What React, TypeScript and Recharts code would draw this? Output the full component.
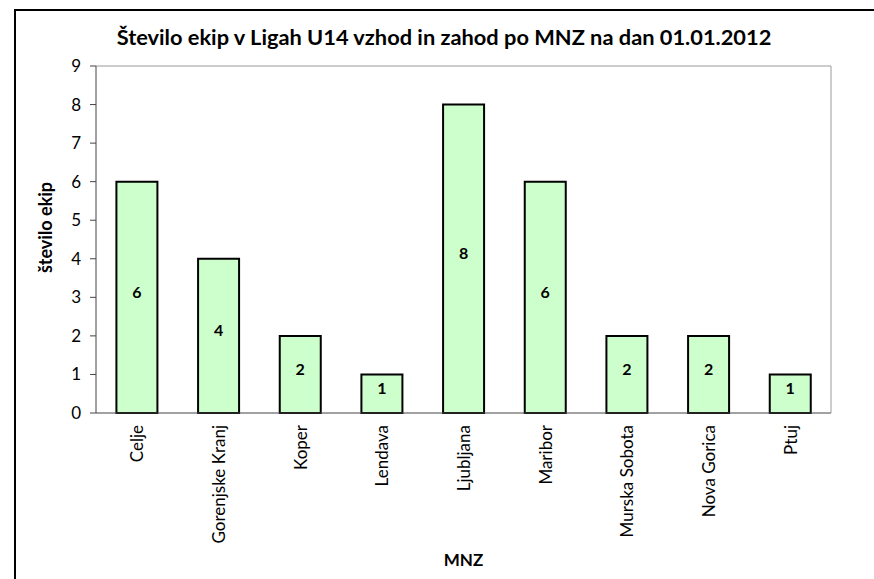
import React from "react";
import { BarChart, Bar, XAxis, YAxis, LabelList } from "recharts";

const categories = [
  "Celje",
  "Gorenjske Kranj",
  "Koper",
  "Lendava",
  "Ljubljana",
  "Maribor",
  "Murska Sobota",
  "Nova Gorica",
  "Ptuj",
];
const teamCounts = [6, 4, 2, 1, 8, 6, 2, 2, 1];
const yTicks = [0, 1, 2, 3, 4, 5, 6, 7, 8, 9];
const boundaryTicks = [0, 1, 2, 3, 4, 5, 6, 7, 8, 9];

const FONT = "Lato, 'Open Sans', sans-serif";

const data = categories.map((name, i) => ({ name, ekipe: teamCounts[i] }));

const CategoryTick = (props: any) => {
  const { x, y, payload } = props;
  return (
    <text
      x={x}
      y={y}
      transform={`rotate(-90, ${x}, ${y})`}
      textAnchor="end"
      dominantBaseline="central"
      fontFamily={FONT}
      fontSize={17}
      fill="#000"
    >
      {payload.value}
    </text>
  );
};

const BarValue = (props: any) => {
  const { x, y, width, height, value } = props;
  return (
    <text
      x={x + width / 2}
      y={y + height / 2 - 6}
      textAnchor="middle"
      dominantBaseline="central"
      fontFamily={FONT}
      fontSize={16}
      fontWeight="bold"
      fill="#000"
    >
      {value}
    </text>
  );
};

export default function App() {
  return (
    <div
      style={{
        position: "absolute",
        left: 0,
        top: 0,
        width: 874,
        height: 579,
        overflow: "hidden",
        background: "#fff",
      }}
    >
      <div
        style={{
          position: "absolute",
          left: 14,
          top: 9,
          width: 1000,
          height: 700,
          border: "2px solid #000",
        }}
      />
      <div
        style={{
          position: "absolute",
          left: 0,
          top: 24,
          width: 888,
          height: 26,
          lineHeight: "26px",
          textAlign: "center",
          fontFamily: FONT,
          fontWeight: "bold",
          fontSize: 21.8,
          color: "#000",
          whiteSpace: "nowrap",
        }}
      >
        Število ekip v Ligah U14 vzhod in zahod po MNZ na dan 01.01.2012
      </div>
      <div style={{ position: "absolute", left: 0, top: 0 }}>
        <BarChart
          width={874}
          height={579}
          data={data}
          margin={{ top: 65, right: 42, bottom: 0, left: 0 }}
          barCategoryGap="25%"
        >
          <XAxis
            xAxisId="a_grid"
            type="number"
            domain={[0, categories.length]}
            ticks={boundaryTicks}
            allowDataOverflow
            height={1}
            tick={false}
            tickSize={5}
            axisLine={{ stroke: "#444", strokeWidth: 1 }}
            tickLine={{ stroke: "#444" }}
          />
          <XAxis
            xAxisId="b_cat"
            dataKey="name"
            type="category"
            height={165}
            interval={0}
            axisLine={false}
            tickLine={false}
            tickSize={6}
            tickMargin={5}
            tick={<CategoryTick />}
            label={{
              content: (p: any) => {
                const vb = p.viewBox;
                return (
                  <text
                    x={vb.x + vb.width / 2}
                    y={vb.y + 145}
                    textAnchor="middle"
                    dominantBaseline="central"
                    fontFamily={FONT}
                    fontSize={17}
                    fontWeight="bold"
                    fill="#000"
                  >
                    MNZ
                  </text>
                );
              },
            }}
          />
          <XAxis
            xAxisId="c_top"
            orientation="top"
            type="number"
            domain={[0, 1]}
            height={1}
            tick={false}
            tickLine={false}
            axisLine={{ stroke: "#9a9a9a" }}
          />
          <YAxis
            yAxisId="left"
            type="number"
            domain={[0, 9]}
            ticks={yTicks}
            interval={0}
            width={96}
            tickSize={6}
            tickMargin={9}
            axisLine={{ stroke: "#444" }}
            tickLine={{ stroke: "#444" }}
            tick={{ fontFamily: FONT, fontSize: 17, fill: "#000" }}
            label={{
              content: (p: any) => {
                const vb = p.viewBox;
                const cx = vb.x + 45;
                const cy = vb.y + vb.height / 2 - 12;
                return (
                  <text
                    x={cx}
                    y={cy}
                    transform={`rotate(-90, ${cx}, ${cy})`}
                    textAnchor="middle"
                    dominantBaseline="central"
                    fontFamily={FONT}
                    fontSize={18}
                    fontWeight="bold"
                    fill="#000"
                  >
                    število ekip
                  </text>
                );
              },
            }}
          />
          <YAxis
            yAxisId="right"
            orientation="right"
            type="number"
            domain={[0, 9]}
            width={1}
            tick={false}
            tickLine={false}
            axisLine={{ stroke: "#9a9a9a" }}
          />
          <Bar
            xAxisId="b_cat"
            yAxisId="left"
            dataKey="ekipe"
            fill="#CCFFCC"
            stroke="#000"
            strokeWidth={2}
            isAnimationActive={false}
          >
            <LabelList dataKey="ekipe" content={<BarValue />} />
          </Bar>
        </BarChart>
      </div>
    </div>
  );
}
